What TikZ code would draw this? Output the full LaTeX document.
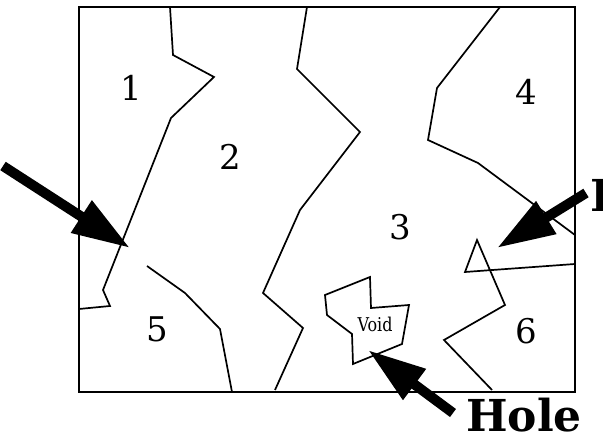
\documentclass[tikz,border=0pt]{standalone}
\usepackage{fontspec}
\setmainfont{DejaVu Serif}
\usetikzlibrary{arrows.meta}
\begin{document}
\begin{tikzpicture}[x=1pt,y=-1pt,line join=miter,
  bd/.style={line width=1.7pt},
  bigarrow/.style={line width=10pt,-{Triangle[length=58pt,width=36pt]}},
  num/.style={font=\fontsize{34}{34}\selectfont,inner sep=0pt},
  lbl/.style={font=\fontsize{44}{44}\selectfont\bfseries,inner sep=0pt},
  voidlbl/.style={font=\fontsize{19}{19}\selectfont,inner sep=0pt,xscale=0.84}]
\useasboundingbox (0,0) rectangle (603,435);
% frame
\draw[bd] (79,7) rectangle (575,392);
% grain boundaries
\draw[bd] (170,7) -- (173,55) -- (214,77) -- (171,118) -- (103,290) -- (110,306) -- (79,309);
\draw[bd] (147,266) -- (185,293) -- (220,329) -- (232,392);
\draw[bd] (307,7) -- (297,69) -- (360,132) -- (300,210) -- (263,293) -- (303,328) -- (275,390);
\draw[bd] (500,7) -- (437,88) -- (428,140) -- (478,163) -- (575,235);
\draw[bd] (575,264) -- (465,272) -- (477,240) -- (505,305) -- (444,340) -- (492,390);
% void
\draw[bd] (325,295) -- (370,277) -- (371,308) -- (409,305) -- (402,344) -- (353,364) -- (352,334) -- (327,315) -- cycle;
% numbers
\node[num] (n1) at (131,88) {1};
\node[num] (n2) at (230,157) {2};
\node[num] (n3) at (400,227) {3};
\node[num] (n4) at (526,92) {4};
\node[num] (n5) at (157,329) {5};
\node[num] (n6) at (526,331) {6};
\node[voidlbl,anchor=base] (void) at (375,332) {Void};
% labels
\node[lbl,anchor=base] (hole) at (524,432) {Hole};
\node[lbl,anchor=base west] (incl) at (590,212) {Inclusion};
% arrow ends
\coordinate (la) at (3,166);
\coordinate (lt) at (130,248);
\coordinate (ra) at (586,193);
\coordinate (rt) at (497,248);
\coordinate (ha) at (453,413);
\coordinate (ht) at (368,350);
\draw[bigarrow] (la) -- (lt);
\draw[bigarrow] (ra) -- (rt);
\draw[bigarrow] (ha) -- (ht);
\end{tikzpicture}
\end{document}
